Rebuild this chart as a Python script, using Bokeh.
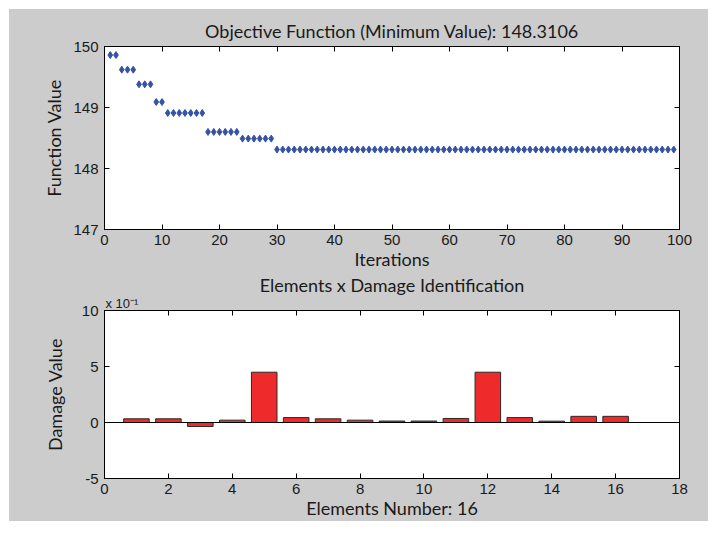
from bokeh.plotting import figure
from bokeh.models import Range1d, FixedTicker, LinearAxis, Span, Title, Spacer
from bokeh.layouts import column, row
from bokeh.embed import file_html
from bokeh.resources import INLINE

# ---------------- data ----------------
iterations = list(range(1, 100))
function_values = [
    149.86, 149.86,
    149.62, 149.62, 149.62,
    149.38, 149.38, 149.38,
    149.09, 149.09,
    148.91, 148.91, 148.91, 148.91, 148.91, 148.91, 148.91,
    148.60, 148.60, 148.60, 148.60, 148.60, 148.60,
    148.49, 148.49, 148.49, 148.49, 148.49, 148.49,
    148.3106, 148.3106, 148.3106, 148.3106, 148.3106, 148.3106, 148.3106, 148.3106, 148.3106, 148.3106,
    148.3106, 148.3106, 148.3106, 148.3106, 148.3106, 148.3106, 148.3106, 148.3106, 148.3106, 148.3106,
    148.3106, 148.3106, 148.3106, 148.3106, 148.3106, 148.3106, 148.3106, 148.3106, 148.3106, 148.3106,
    148.3106, 148.3106, 148.3106, 148.3106, 148.3106, 148.3106, 148.3106, 148.3106, 148.3106, 148.3106,
    148.3106, 148.3106, 148.3106, 148.3106, 148.3106, 148.3106, 148.3106, 148.3106, 148.3106, 148.3106,
    148.3106, 148.3106, 148.3106, 148.3106, 148.3106, 148.3106, 148.3106, 148.3106, 148.3106, 148.3106,
    148.3106, 148.3106, 148.3106, 148.3106, 148.3106, 148.3106, 148.3106, 148.3106, 148.3106, 148.3106,
]
top_x_ticks = [0, 10, 20, 30, 40, 50, 60, 70, 80, 90, 100]
top_y_ticks = [147, 148, 149, 150]

elements = list(range(1, 17))
damage_values = [0.33, 0.33, -0.36, 0.21, 4.49, 0.44, 0.33, 0.21,
                 0.13, 0.13, 0.36, 4.49, 0.44, 0.12, 0.55, 0.55]   # in units of 10^-1
bottom_x_ticks = [0, 2, 4, 6, 8, 10, 12, 14, 16, 18]
bottom_y_ticks = [-5, 0, 5, 10]
bottom_y_labels = {-5: "-5", 0: "0", 5: "5", 10: "10"}

TITLE_1 = "Objective Function (Minimum Value): 148.3106"
TITLE_2 = "Elements x Damage Identification"
XLABEL_1 = "Iterations"
YLABEL_1 = "Function Value"
XLABEL_2 = "Elements Number: 16"
YLABEL_2 = "Damage Value"
EXPONENT = "x 10\u207b\u00b9"

# ---------------- style ----------------
GRAY = "#cccccc"
TXT = "#1a1a1a"
TITLE_FONT = "Lato"
TICK_FONT = "Liberation Sans"
W = 699
MARGIN = 9


def style_axis(ax, labels=True):
    ax.axis_line_color = "black"
    ax.major_tick_line_color = "black"
    ax.major_tick_in = 5
    ax.major_tick_out = 0
    ax.minor_tick_line_color = None
    if labels:
        ax.major_label_text_font = TICK_FONT
        ax.major_label_text_font_size = "15px"
        ax.major_label_text_color = TXT
        ax.axis_label_text_font = TITLE_FONT
        ax.axis_label_text_font_size = "18px"
        ax.axis_label_text_font_style = "normal"
        ax.axis_label_text_color = TXT
    else:
        ax.major_label_text_color = None
        ax.major_label_text_font_size = "1px"
        ax.major_label_standoff = 0


def make_fig(height, xr, yr, xt, yt, title, xlabel, ylabel, btop, bbot, ylab_standoff):
    p = figure(width=W, height=height, x_range=Range1d(*xr), y_range=Range1d(*yr),
               output_backend="svg", toolbar_location=None,
               min_border_left=95, min_border_right=29,
               min_border_top=btop, min_border_bottom=bbot)
    p.background_fill_color = "white"
    p.border_fill_color = GRAY
    p.outline_line_color = "black"
    p.grid.visible = False
    p.title.text = title
    p.title.align = "center"
    p.title.text_font = TITLE_FONT
    p.title.text_font_size = "18px"
    p.title.text_font_style = "normal"
    p.title.text_color = TXT
    p.title.standoff = 10
    p.xaxis.ticker = FixedTicker(ticks=xt)
    p.yaxis.ticker = FixedTicker(ticks=yt)
    p.xaxis.axis_label = xlabel
    p.yaxis.axis_label = ylabel
    for ax in p.xaxis + p.yaxis:
        style_axis(ax)
    p.xaxis.major_label_standoff = 5
    p.xaxis.axis_label_standoff = 0
    p.yaxis.major_label_standoff = 6
    p.yaxis.axis_label_standoff = ylab_standoff
    top_ax = LinearAxis(ticker=FixedTicker(ticks=xt))
    style_axis(top_ax, labels=False)
    p.add_layout(top_ax, "above")
    right_ax = LinearAxis(ticker=FixedTicker(ticks=yt))
    style_axis(right_ax, labels=False)
    p.add_layout(right_ax, "right")
    return p


# ---------------- top: objective function ----------------
p1 = make_fig(264, (0, 100), (147, 150), top_x_ticks, top_y_ticks,
              TITLE_1, XLABEL_1, YLABEL_1, 37, 44, 5)
p1.scatter(iterations, function_values, marker="diamond", size=7,
           fill_color="#3552a6", line_color="#3552a6", line_width=1)

# ---------------- bottom: damage bars ----------------
p2 = make_fig(248, (0, 18), (-5, 10), bottom_x_ticks, bottom_y_ticks,
              TITLE_2, XLABEL_2, YLABEL_2, 36, 43, 13)
p2.yaxis.major_label_overrides = bottom_y_labels
p2.title.standoff = -4
p2.add_layout(Title(text=EXPONENT, align="left", offset=1, standoff=0,
                    text_font=TICK_FONT, text_font_size="13px",
                    text_font_style="normal", text_color=TXT), "above")
p2.vbar(x=elements, top=damage_values, bottom=0, width=0.8,
        fill_color="#ee2a2a", line_color="#2a2a2a", line_width=1)
p2.add_layout(Span(location=0, dimension="width", line_color="black", line_width=1))

plots = column(p1, p2, spacing=0, styles={"background-color": GRAY})
layout = column(Spacer(height=MARGIN, width=W + MARGIN),
                row(Spacer(width=MARGIN, height=264 + 248), plots, spacing=0),
                spacing=0)
open("out.html", "w").write(file_html(layout, INLINE))
